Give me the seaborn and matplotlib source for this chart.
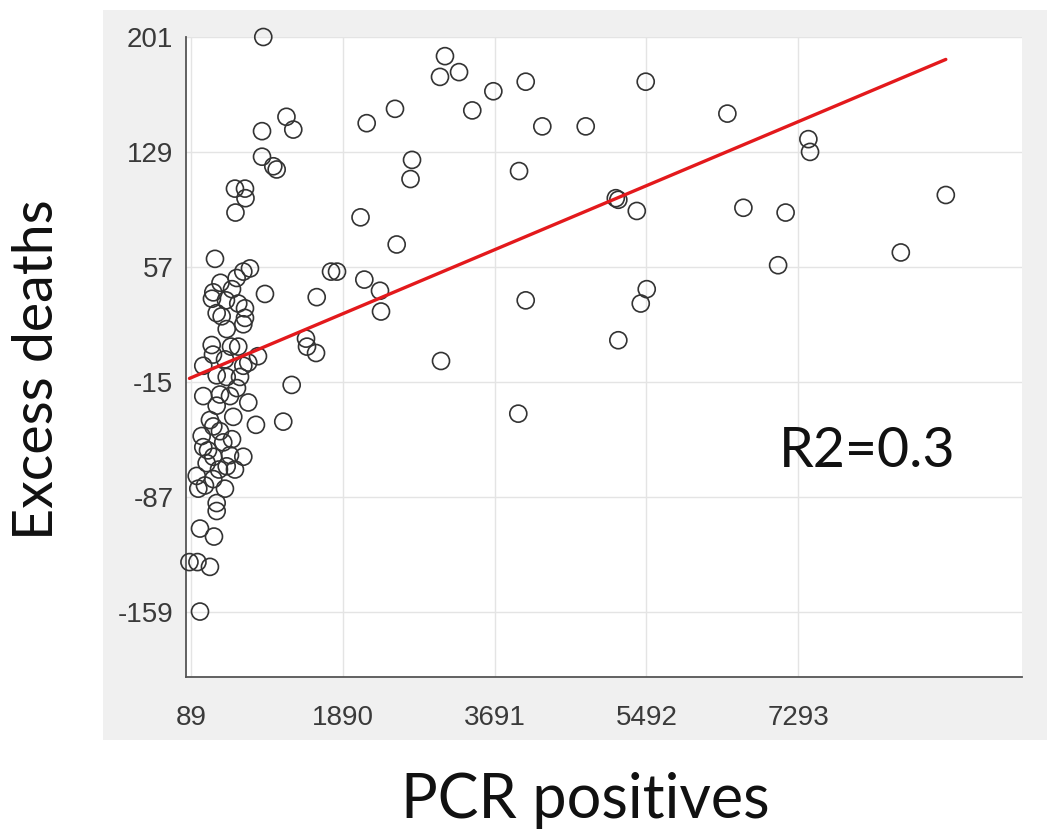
import numpy as np
import matplotlib
matplotlib.use("Agg")
import matplotlib.pyplot as plt
from matplotlib.patches import Rectangle
import seaborn as sns

# PCR positives vs excess deaths
pcr_positives = [
    9046, 8512, 7415, 7435, 7145, 7056, 6644, 6454, 5485, 5497,
    5426, 5160, 5160, 5130, 5379, 4773, 4258, 4061, 3982, 4061,
    3973, 3677, 3427, 3270, 3103, 3044, 3056, 2712, 2694, 2510,
    2530, 2174, 2101, 2146, 2332, 2344, 1751, 1822, 1581, 1454,
    1466, 1573, 1284, 1184, 967, 947, 1222, 1303, 932, 932,
    1066, 1106, 611, 730, 736, 617, 374, 789, 710, 631,
    439, 354, 338, 650, 730, 394, 453, 730, 513, 710,
    335, 650, 769, 710, 235, 394, 513, 671, 235, 552,
    394, 769, 591, 860, 354, 216, 235, 472, 710, 354,
    275, 513, 157, 354, 492, 176, 394, 394, 196, 362,
    71, 166, 314, 196, 314, 433, 576, 291, 552, 421,
    611, 255, 433, 635, 493, 350, 564, 504, 576, 884,
]
excess_deaths = [
    102, 66, 137, 129, 91, 58, 94, 153, 173, 43,
    34, 11, 99, 100, 92, 145, 145, 173, 117, 36,
    -35, 167, 155, 179, 189, 176, -2, 124, 112, 156,
    71, 147, 88, 49, 42, 29, 54, 54, 38, 12,
    7, 3, -17, -40, 40, 201, 151, 143, 142, 126,
    120, 118, 106, 106, 100, 91, 62, 56, 54, 50,
    47, 41, 37, 34, 31, 28, 26, 25, 18, 21,
    8, 7, -3, -5, -5, -11, -12, -12, -24, -24,
    -30, -28, -37, -42, -43, -49, -56, -53, -62, -62,
    -66, -68, -74, -76, -82, -82, -91, -96, -107, -112,
    -128, -128, -131, -159, -39, -46, -51, -58, -61, -70,
    -70, -80, -23, -19, -1, 2, 7, 36, 43, 1,
]

# linear fit shown in red
fit_slope = 0.02227
fit_intercept = -14.5
r2_label = "R2=0.3"

x_ticks = [89, 1890, 3691, 5492, 7293]
y_ticks = [-159, -87, -15, 57, 129, 201]

sns.set_style("whitegrid")
plt.rcParams['font.family'] = ['Liberation Sans', 'DejaVu Sans']
plt.rcParams['axes.unicode_minus'] = False

fig = plt.figure(figsize=(10.47, 8.3), dpi=100)
fig.patch.set_facecolor('white')

# light gray panel behind the axes
fig.patches.append(Rectangle((103 / 1047, 1 - 740 / 830), 1 - 103 / 1047, (740 - 10) / 830,
                             transform=fig.transFigure, facecolor='#f0f0f0',
                             edgecolor='none', zorder=0))

ax = fig.add_axes([186 / 1047, 1 - 677 / 830, (1022 - 186) / 1047, (677 - 37) / 830])
ax.set_zorder(2)
ax.set_facecolor('white')

sns.scatterplot(x=pcr_positives, y=excess_deaths, ax=ax, marker='o', s=150,
                facecolors='none', edgecolor='#333333', linewidth=1.2,
                clip_on=False, zorder=3)

line_x = np.array([min(pcr_positives), max(pcr_positives)])
ax.plot(line_x, fit_slope * line_x + fit_intercept, color='#e3191c', lw=2.4, zorder=4)

ax.set_xlim(30, 9950)
ax.set_ylim(-200, 201)
ax.set_xticks(x_ticks)
ax.set_yticks(y_ticks)
ax.grid(True, color='#e4e4e4', lw=1)
for side in ['top', 'right']:
    ax.spines[side].set_visible(False)
for side in ['left', 'bottom']:
    ax.spines[side].set_color('#555555')
    ax.spines[side].set_linewidth(1.3)
ax.tick_params(direction='in', length=5, width=1, color='#555555',
               labelsize=20, labelcolor='#3a3a3a')
ax.tick_params(axis='x', pad=20)
ax.tick_params(axis='y', pad=9)

ax.text(7068, -59, r2_label, ha='left', va='center', fontsize=40,
        family=['Lato', 'DejaVu Sans'], color='#111111')

fig.text(38 / 1047, 1 - 370 / 830, 'Excess deaths', rotation=90, ha='center',
         va='center', fontsize=40, family=['Lato', 'DejaVu Sans'], color='#111111')
fig.text(585 / 1047, 1 - 800 / 830, 'PCR positives', ha='center', va='center',
         fontsize=44, family=['Lato', 'DejaVu Sans'], color='#111111')

fig.savefig('out.png', dpi=100)
